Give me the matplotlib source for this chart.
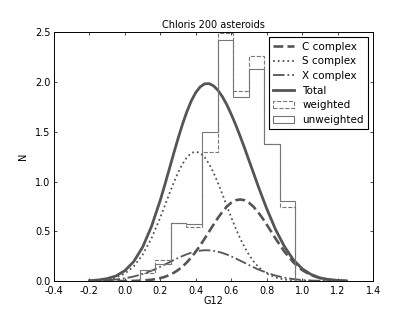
import numpy as np
import matplotlib
matplotlib.use('Agg')
import matplotlib.pyplot as plt

# gaussian components (finer steps near the peak)
g12 = [-0.20, -0.15, -0.10, -0.05, 0.00, 0.05, 0.10, 0.15, 0.20, 0.225,
       0.25, 0.275, 0.30, 0.325, 0.35, 0.375, 0.40, 0.425, 0.45, 0.475,
       0.50, 0.525, 0.55, 0.575, 0.60, 0.625, 0.65, 0.675, 0.70, 0.725,
       0.75, 0.775, 0.80, 0.85, 0.90, 0.95, 1.00, 1.05, 1.10, 1.15,
       1.20, 1.25]
c_complex = [0.000, 0.000, 0.000, 0.000, 0.001, 0.002, 0.006, 0.014, 0.030, 0.043,
             0.060, 0.083, 0.111, 0.146, 0.189, 0.239, 0.296, 0.359, 0.427, 0.497,
             0.568, 0.635, 0.696, 0.748, 0.787, 0.812, 0.820, 0.812, 0.787, 0.748,
             0.696, 0.635, 0.568, 0.427, 0.296, 0.189, 0.111, 0.060, 0.030, 0.014,
             0.006, 0.002]
s_complex = [0.002, 0.006, 0.016, 0.036, 0.076, 0.148, 0.264, 0.430, 0.640, 0.756,
             0.873, 0.986, 1.089, 1.177, 1.244, 1.286, 1.300, 1.286, 1.244, 1.177,
             1.089, 0.986, 0.873, 0.756, 0.640, 0.530, 0.430, 0.341, 0.264, 0.200,
             0.148, 0.108, 0.076, 0.036, 0.016, 0.006, 0.002, 0.001, 0.000, 0.000,
             0.000, 0.000]
x_complex = [0.002, 0.005, 0.009, 0.016, 0.028, 0.046, 0.071, 0.104, 0.144, 0.166,
             0.188, 0.210, 0.232, 0.252, 0.270, 0.286, 0.298, 0.306, 0.310, 0.309,
             0.304, 0.295, 0.283, 0.267, 0.248, 0.228, 0.206, 0.184, 0.161, 0.140,
             0.119, 0.101, 0.084, 0.055, 0.035, 0.020, 0.011, 0.006, 0.003, 0.001,
             0.001, 0.000]
total = [0.004, 0.011, 0.025, 0.052, 0.105, 0.196, 0.341, 0.548, 0.814, 0.965,
         1.121, 1.279, 1.432, 1.575, 1.703, 1.811, 1.894, 1.951, 1.981, 1.983,
         1.961, 1.916, 1.852, 1.771, 1.675, 1.570, 1.456, 1.337, 1.212, 1.088,
         0.963, 0.844, 0.728, 0.518, 0.347, 0.215, 0.124, 0.067, 0.033, 0.015,
         0.007, 0.002]

# histogram
bin_edges = [0.085, 0.1725, 0.26, 0.3475, 0.435, 0.5225, 0.61, 0.6975, 0.785, 0.8725, 0.96]
weighted = [0.08, 0.21, 0.58, 0.54, 1.295, 2.49, 1.91, 2.26, 1.38, 0.74]
unweighted = [0.11, 0.17, 0.58, 0.575, 1.50, 2.42, 1.85, 2.13, 1.38, 0.80]

fs = 7
plt.rcParams['font.family'] = ['DejaVu Sans']
plt.rcParams['font.size'] = fs

fig = plt.figure(figsize=(4.15, 3.12), dpi=100)
ax = fig.add_axes([0.130, 0.099, 0.769, 0.798])

dark = '#555555'
ax.plot(g12, c_complex, '--', color=dark, lw=1.9, label='C complex')
ax.plot(g12, s_complex, ':', color=dark, lw=1.3, label='S complex')
ax.plot(g12, x_complex, '-.', color=dark, lw=1.3, label='X complex')
ax.plot(g12, total, '-', color=dark, lw=2.0, label='Total')

edges = np.array(bin_edges)
ax.hist(edges[:-1], bins=edges, weights=weighted, histtype='step',
        color='#777777', ls='--', lw=0.8, label='weighted')
ax.hist(edges[:-1], bins=edges, weights=unweighted, histtype='step',
        color='#777777', ls='-', lw=0.8, label='unweighted')

ax.set_xlim(-0.4, 1.4)
ax.set_ylim(0, 2.5)
ax.set_xticks(np.arange(-0.4, 1.41, 0.2))
ax.set_yticks(np.arange(0, 2.51, 0.5))
ax.xaxis.set_major_formatter(matplotlib.ticker.FormatStrFormatter('%.1f'))
ax.yaxis.set_major_formatter(matplotlib.ticker.FormatStrFormatter('%.1f'))
ax.tick_params(direction='in', top=True, right=True, length=2.5, width=0.5,
               labelsize=fs)
ax.tick_params(axis='x', pad=3.5)
ax.tick_params(axis='y', pad=2.5)
for s in ax.spines.values():
    s.set_linewidth(0.7)

ax.set_xlabel('G12', fontsize=fs, labelpad=0)
ax.set_ylabel('N', fontsize=fs, labelpad=5)
ax.set_title('Chloris 200 asteroids', fontsize=fs, pad=3)

leg = ax.legend(loc='upper right', fontsize=7.5, fancybox=False, framealpha=1,
                edgecolor='black', handlelength=2.0, labelspacing=0.45,
                borderaxespad=0.5)
leg.get_frame().set_linewidth(0.8)

fig.savefig('out.png', dpi=100)
